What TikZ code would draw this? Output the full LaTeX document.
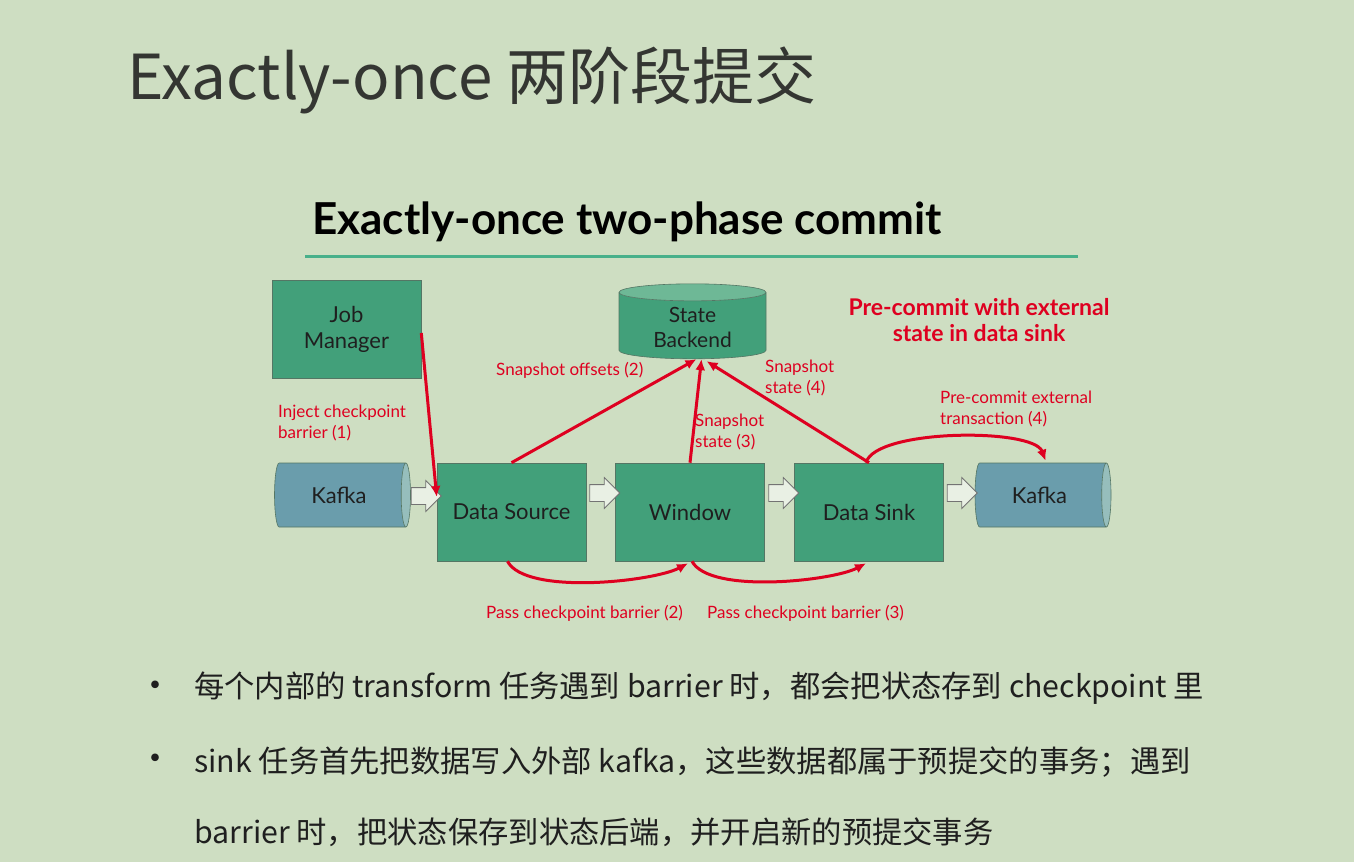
\documentclass[tikz,border=0pt]{standalone}
\usepackage{fontspec}
\setmainfont{Lato}
\newfontfamily\cjk{Noto Sans CJK SC}
\usetikzlibrary{
  arrows.meta,     % red arrow tips
  positioning,     % relative placement of labels
  shapes.geometric,% cylinders for Kafka and the state backend
  shapes.arrows    % hollow block arrows of the data flow
}
\definecolor{bgcol}{RGB}{206,222,194}
\definecolor{taskgreen}{RGB}{66,160,122}
\definecolor{taskedge}{RGB}{84,118,100}
\definecolor{kafkablue}{RGB}{106,157,172}
\definecolor{kafkaend}{RGB}{150,190,188}
\definecolor{backendtop}{RGB}{110,184,150}
\definecolor{flowred}{RGB}{222,0,32}
\definecolor{ruleteal}{RGB}{72,176,138}
\definecolor{titlegray}{RGB}{52,54,50}
\tikzset{
  task/.style={
    rectangle,
    draw=taskedge,
    line width=0.6pt,
    fill=taskgreen,
    minimum width=149pt,
    minimum height=98pt,
    align=center,
    text=black!88,
    font=\fontsize{22}{26}\selectfont
  },
  kafka/.style={
    cylinder,
    draw=taskedge,
    line width=0.6pt,
    cylinder uses custom fill,
    cylinder body fill=kafkablue,
    cylinder end fill=kafkaend,
    minimum height=136pt,
    minimum width=64pt,
    aspect=0.4,
    text=black!88,
    font=\fontsize{22}{26}\selectfont
  },
  backend/.style={
    cylinder,
    shape border rotate=90,
    draw=taskedge,
    line width=0.6pt,
    cylinder uses custom fill,
    cylinder body fill=taskgreen,
    cylinder end fill=backendtop,
    minimum height=75pt,
    minimum width=147pt,
    aspect=0.2,
    align=center,
    text=black!88,
    font=\fontsize{21}{25}\selectfont
  },
  flowarrow/.style={
    single arrow,
    draw=black!55,
    fill=bgcol!45!white,
    line width=0.8pt,
    minimum height=30pt,
    inner xsep=0pt,
    inner ysep=8pt,
    single arrow head extend=7pt
  },
  redarrow/.style={
    -{Latex[length=11pt,width=10pt]},
    line width=3pt,
    draw=flowred
  },
  redlabel/.style={
    text=flowred,
    align=left,
    inner sep=0pt,
    font=\fontsize{17}{21}\selectfont
  },
  bullettext/.style={
    anchor=west,
    inner sep=0pt,
    text=black!88,
    font=\cjk\fontsize{30.3}{30}\selectfont
  }
}

\begin{document}
\begin{tikzpicture}[x=1pt, y=-1pt]
  % page and background
  \useasboundingbox (0,0) rectangle (1354,862);
  \fill[bgcol] (0,0) rectangle (1354,862);

  % 1. headings
  \node[anchor=west, inner sep=0pt, text=titlegray,
        font=\cjk\fontsize{62}{62}\selectfont] (title) at (127,80) {Exactly-once 两阶段提交};
  \node[anchor=west, inner sep=0pt, font=\bfseries\fontsize{44}{44}\selectfont] (subtitle)
        at (312,222) {Exactly-once two-phase commit};
  \coordinate (ruleL) at (305,256);
  \coordinate (ruleR) at (1078,256);
  \draw[ruleteal, line width=3pt] (ruleL) -- (ruleR);

  % 2. tasks, sources and the state backend
  \node[task] (jm) at (346.5,329) {Job\\Manager};
  \node[backend] (sb) at (692.5,327) {State\\Backend};
  \node[kafka] (kafkaL) at (339,495) {Kafka};
  \node[task] (src) at (511.5,512) {Data Source};
  \node[task] (win) at (690,512) {Window};
  \node[task] (sink) at (869,512) {Data Sink};
  \node[kafka] (kafkaR) at (1039.5,495) {Kafka};

  % hollow arrows of the data flow
  \node[flowarrow] (f1) at (422,496) {};
  \node[flowarrow] (f2) at (600.5,493) {};
  \node[flowarrow] (f3) at (779.5,493) {};
  \node[flowarrow] (f4) at (958,493) {};

  % 3. checkpoint messages (red)
  \draw[redarrow] ([yshift=-4pt]jm.east) -- ([yshift=15pt]src.west);
  \draw[redarrow] (src.north) -- ([xshift=4pt]sb.south);
  \draw[redarrow] (win.north) -- ([xshift=9pt]sb.south);
  \draw[redarrow] (sink.north) -- ([xshift=14pt,yshift=-2pt]sb.south);
  \draw[redarrow] ([xshift=-3pt]sink.north) to[out=75, in=110, looseness=0.5] ([xshift=6pt,yshift=2pt]kafkaR.north);
  \draw[redarrow] ([xshift=-4pt]src.south) to[out=-62, in=-152, looseness=0.55] ([xshift=-2pt,yshift=-2pt]win.south);
  \draw[redarrow] ([xshift=2pt]win.south) to[out=-62, in=-152, looseness=0.55] ([xshift=-3pt,yshift=-2pt]sink.south);

  % labels of the messages
  \node[redlabel, anchor=west] (lInject) at (278,423) {Inject checkpoint\\barrier (1)};
  \node[redlabel, anchor=west] (lOffsets) at (496,370) {Snapshot offsets (2)};
  \node[redlabel, anchor=west] (lState3) at (695,432) {Snapshot\\state (3)};
  \node[redlabel, anchor=west] (lState4) at (765,378) {Snapshot\\state (4)};
  \node[redlabel, anchor=west] (lPre) at (940,409) {Pre-commit external\\transaction (4)};
  \node[redlabel, anchor=west] (lPass2) at (486,613) {Pass checkpoint barrier (2)};
  \node[redlabel, anchor=west] (lPass3) at (707,613) {Pass checkpoint barrier (3)};
  \node[text=flowred, align=center, inner sep=0pt,
        font=\bfseries\fontsize{23}{26}\selectfont] (note) at (979,320)
        {Pre-commit with external\\state in data sink};

  % 4. bullet points
  \node[bullettext] (b1dot) at (137,690) {\fontsize{36}{30}\selectfont •};
  \node[bullettext] (b1) at (194,688) {每个内部的 transform 任务遇到 barrier 时，都会把状态存到 checkpoint 里};
  \node[bullettext] (b2dot) at (137,763) {\fontsize{36}{30}\selectfont •};
  \node[bullettext] (b2) at (194,762) {sink 任务首先把数据写入外部 kafka，这些数据都属于预提交的事务；遇到};
  \node[bullettext] (b3) at (194,832) {barrier 时，把状态保存到状态后端，并开启新的预提交事务};
\end{tikzpicture}
\end{document}
